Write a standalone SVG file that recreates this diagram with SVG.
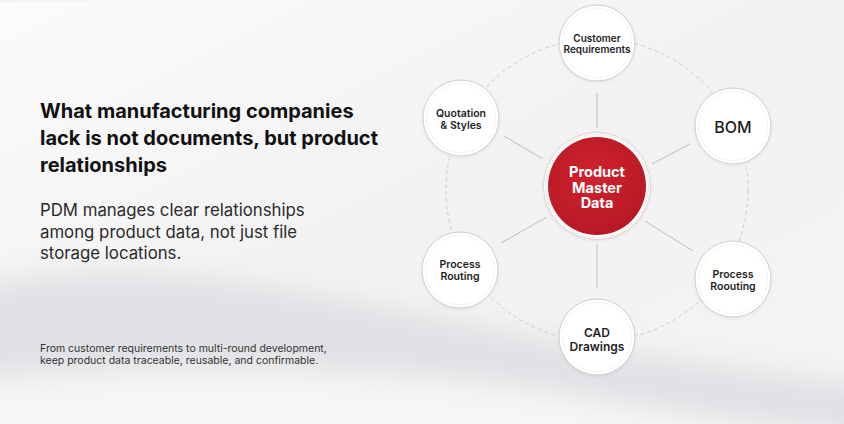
<svg xmlns="http://www.w3.org/2000/svg" width="844" height="424" viewBox="0 0 844 424">
<defs>
<linearGradient id="bg" x1="0" y1="0" x2="1" y2="1">
<stop offset="0" stop-color="#fbfbfb"/>
<stop offset="0.5" stop-color="#f2f2f3"/>
<stop offset="1" stop-color="#f4f4f5"/>
</linearGradient>
<radialGradient id="red" cx="0.45" cy="0.4" r="0.65">
<stop offset="0" stop-color="#d0232f"/>
<stop offset="1" stop-color="#b51824"/>
</radialGradient>
<filter id="blur" x="-20%" y="-50%" width="140%" height="200%"><feGaussianBlur stdDeviation="14"/></filter>
<filter id="sh" x="-30%" y="-30%" width="160%" height="160%"><feDropShadow dx="0" dy="1" stdDeviation="1.5" flood-color="#000" flood-opacity="0.08"/></filter>
<style>
.node circle.o{fill:#fff;stroke:#cfcfcf;stroke-width:1}
.node circle.i{fill:none;stroke:#d6d6d6;stroke-width:0.8;stroke-dasharray:1 1.5}
.node text{font-family:Inter,"Liberation Sans",sans-serif;font-weight:600;fill:#1e1e1e;text-anchor:middle}
.spoke{stroke:#bdbdbd;stroke-width:1}
.ring{fill:none;stroke:#cfcfcf;stroke-width:1;stroke-dasharray:4 3}
.h{font-family:Inter,"Liberation Sans",sans-serif;font-weight:700;font-size:20px;fill:#111}
.s{font-family:Inter,"Liberation Sans",sans-serif;font-weight:400;font-size:16.8px;fill:#2a2a2a}
.f{font-family:Inter,"Liberation Sans",sans-serif;font-weight:400;font-size:10.5px;fill:#333}
</style>
</defs>
<rect width="844" height="424" fill="url(#bg)"/>
<path d="M-40 290 C 120 250, 300 290, 500 330 C 650 360, 760 370, 900 390 L 900 470 L -40 470 Z" fill="#e0e1e4" filter="url(#blur)"/>
<path d="M-40 380 C 200 360, 450 370, 600 400 C 720 420, 800 430, 900 440 L 900 480 L -40 480 Z" fill="#f6f6f7" filter="url(#blur)"/>
<rect x="-2" y="-10" width="90" height="11" rx="3" fill="#fff" stroke="#e3e3e3" stroke-width="0.8"/>

<g id="title">
<text class="h" x="40" y="118">What manufacturing companies</text>
<text class="h" x="40" y="145">lack is not documents, but product</text>
<text class="h" x="40" y="172">relationships</text>
</g>
<g id="subtitle">
<text class="s" x="40" y="216">PDM manages clear relationships</text>
<text class="s" x="40" y="237.5">among product data, not just file</text>
<text class="s" x="40" y="259">storage locations.</text>
</g>
<g id="footnote">
<text class="f" x="40" y="352">From customer requirements to multi-round development,</text>
<text class="f" x="40" y="364">keep product data traceable, reusable, and confirmable.</text>
</g>

<g id="connectors">
<circle class="ring" cx="597" cy="190" r="151"/>
<line class="spoke" x1="597" y1="93" x2="597" y2="128"/>
<line class="spoke" x1="504" y1="136" x2="543" y2="159"/>
<line class="spoke" x1="690" y1="144" x2="652" y2="164"/>
<line class="spoke" x1="547" y1="217" x2="501" y2="243"/>
<line class="spoke" x1="645" y1="221" x2="693" y2="251"/>
<line class="spoke" x1="597" y1="244" x2="597" y2="288"/>
</g>

<g id="center" class="node">
<circle cx="597" cy="186" r="53.5" fill="#fff" stroke="#e0c4c4" stroke-width="0.8" filter="url(#sh)"/>
<circle cx="597" cy="186" r="51.5" fill="none" stroke="#d9a9ad" stroke-width="0.7" stroke-dasharray="1 1.5"/>
<circle cx="597" cy="186" r="49" fill="url(#red)"/>
<text x="597" y="177" font-size="14.5" style="fill:#fff;font-weight:700">Product</text>
<text x="597" y="192.5" font-size="14.5" style="fill:#fff;font-weight:700">Master</text>
<text x="597" y="208" font-size="14.5" style="fill:#fff;font-weight:700">Data</text>
</g>

<g id="customer" class="node">
<circle class="o" cx="597" cy="43" r="38" filter="url(#sh)"/>
<circle class="i" cx="597" cy="43" r="34.5"/>
<text x="597" y="41.5" font-size="10">Customer</text>
<text x="597" y="53" font-size="10">Requirements</text>
</g>
<g id="quotation" class="node">
<circle class="o" cx="461" cy="118" r="38" filter="url(#sh)"/>
<circle class="i" cx="461" cy="118" r="34.5"/>
<text x="461" y="116.5" font-size="10.5">Quotation</text>
<text x="461" y="129" font-size="10.5">&amp; Styles</text>
</g>
<g id="bom" class="node">
<circle class="o" cx="733" cy="126" r="38" filter="url(#sh)"/>
<circle class="i" cx="733" cy="126" r="34.5"/>
<text x="733" y="132.5" font-size="16" style="font-weight:500">BOM</text>
</g>
<g id="routing-left" class="node">
<circle class="o" cx="460" cy="270" r="38" filter="url(#sh)"/>
<circle class="i" cx="460" cy="270" r="34.5"/>
<text x="460" y="268" font-size="10.5">Process</text>
<text x="460" y="280" font-size="10.5">Routing</text>
</g>
<g id="routing-right" class="node">
<circle class="o" cx="733" cy="279" r="38" filter="url(#sh)"/>
<circle class="i" cx="733" cy="279" r="34.5"/>
<text x="733" y="277.5" font-size="10.5">Process</text>
<text x="733" y="289.5" font-size="10.5">Roouting</text>
</g>
<g id="cad" class="node">
<circle class="o" cx="597" cy="337" r="38" filter="url(#sh)"/>
<circle class="i" cx="597" cy="337" r="34.5"/>
<text x="597" y="337" font-size="12">CAD</text>
<text x="597" y="350.5" font-size="12">Drawings</text>
</g>
</svg>
